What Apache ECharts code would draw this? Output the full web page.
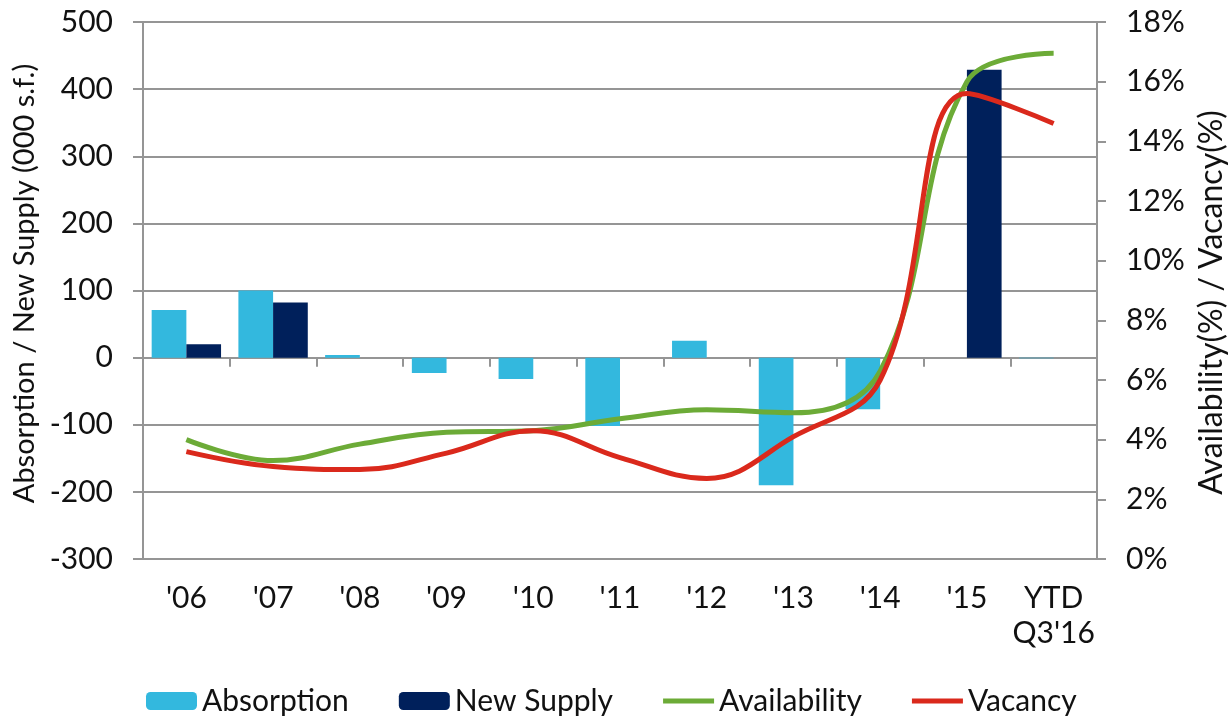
<!DOCTYPE html>
<html>
<head>
<meta charset="utf-8">
<script src="https://cdn.jsdelivr.net/npm/echarts@6/dist/echarts.min.js"></script>
<style>
  html, body { margin: 0; padding: 0; background: #fff; }
  #chart { width: 1229px; height: 717px; }
</style>
</head>
<body>
<div id="chart"></div>
<script>
// absorption / new supply in 000 s.f., availability & vacancy in %
const years = ["'06", "'07", "'08", "'09", "'10", "'11", "'12", "'13", "'14", "'15", "YTD\nQ3'16"];
const absorption = [71, 100, 4, -23, -32, -102, 25, -190, -77, 0, -1];
const newSupply = [20, 82, 0, 0, 0, 0, 0, 0, 0, 429, 0];
const availability = [4.0, 3.3, 3.85, 4.25, 4.3, 4.7, 5.0, 4.9, 6.3, 16.0, 16.95];
const vacancy = [3.6, 3.1, 3.0, 3.55, 4.3, 3.4, 2.7, 4.1, 6.0, 15.6, 14.6];

const font = 'Lato';
const gray = '#959595';
const lineIcon = 'path://M0,0H51V5H0Z';

let chart = echarts.init(document.getElementById('chart'));

let option = {
  animation: false,
  textStyle: { fontFamily: font },
  grid: { left: 143, right: 132, top: 22, bottom: 158, outerBoundsMode: 'none' },
  legend: {
    top: 681,
    left: 141,
    itemWidth: 51,
    itemHeight: 18,
    itemGap: 50,
    textStyle: { fontSize: 30, color: '#111', fontFamily: font },
    data: [
      { name: 'Absorption' },
      { name: 'New Supply' },
      { name: 'Availability', icon: lineIcon },
      { name: 'Vacancy', icon: lineIcon }
    ]
  },
  xAxis: [
    {
      // zero line with boundary ticks
      type: 'category',
      data: years,
      axisLine: { onZero: true, lineStyle: { color: gray, width: 2 } },
      axisTick: { show: true, length: 9, lineStyle: { color: gray, width: 2 } },
      axisLabel: { show: false }
    },
    {
      // labels below plot
      type: 'category',
      data: years,
      position: 'bottom',
      axisLine: { show: false, onZero: false },
      axisTick: { show: false },
      axisLabel: { interval: 0, margin: 22, fontSize: 30, color: '#111', lineHeight: 35, fontFamily: font }
    }
  ],
  yAxis: [
    {
      type: 'value',
      min: -300,
      max: 500,
      interval: 100,
      name: 'Absorption / New Supply (000 s.f.)',
      nameLocation: 'middle',
      nameGap: 92,
      nameTextStyle: { fontSize: 29, color: '#111', fontFamily: font, padding: [0, 0, 0, 14] },
      axisLine: { show: true, lineStyle: { color: gray, width: 2 } },
      axisTick: { show: true, length: 10, lineStyle: { color: gray, width: 2 } },
      axisLabel: { fontSize: 30, color: '#111', margin: 30, fontFamily: font },
      splitLine: { lineStyle: { color: gray, width: 2 } }
    },
    {
      type: 'value',
      min: 0,
      max: 18,
      interval: 2,
      position: 'right',
      name: 'Availability(%) / Vacancy(%)',
      nameLocation: 'middle',
      nameGap: 96,
      nameRotate: 90,
      nameTextStyle: { fontSize: 32, color: '#111', fontFamily: font, padding: [0, 24, 0, 0] },
      axisLine: { show: true, lineStyle: { color: gray, width: 2 } },
      axisTick: { show: true, length: 9, lineStyle: { color: gray, width: 2 } },
      axisLabel: { fontSize: 30, color: '#111', margin: 29, formatter: '{value}%', fontFamily: font },
      splitLine: { show: false }
    }
  ],
  series: [
    {
      name: 'Absorption',
      type: 'bar',
      data: absorption,
      itemStyle: { color: '#33b8de' },
      barGap: '0%',
      barCategoryGap: '20%'
    },
    {
      name: 'New Supply',
      type: 'bar',
      data: newSupply,
      itemStyle: { color: '#00205b' }
    },
    {
      name: 'Availability',
      type: 'line',
      yAxisIndex: 1,
      data: availability,
      smooth: 0.4,
      symbol: 'none',
      lineStyle: { color: '#6cab37', width: 5 },
      itemStyle: { color: '#6cab37' },
      z: 3
    },
    {
      name: 'Vacancy',
      type: 'line',
      yAxisIndex: 1,
      data: vacancy,
      smooth: 0.4,
      symbol: 'none',
      lineStyle: { color: '#da291c', width: 5 },
      itemStyle: { color: '#da291c' },
      z: 4
    }
  ]
};

chart.setOption(option);
window.addEventListener('resize', () => {
  chart.resize();
});
</script>
</body>
</html>
